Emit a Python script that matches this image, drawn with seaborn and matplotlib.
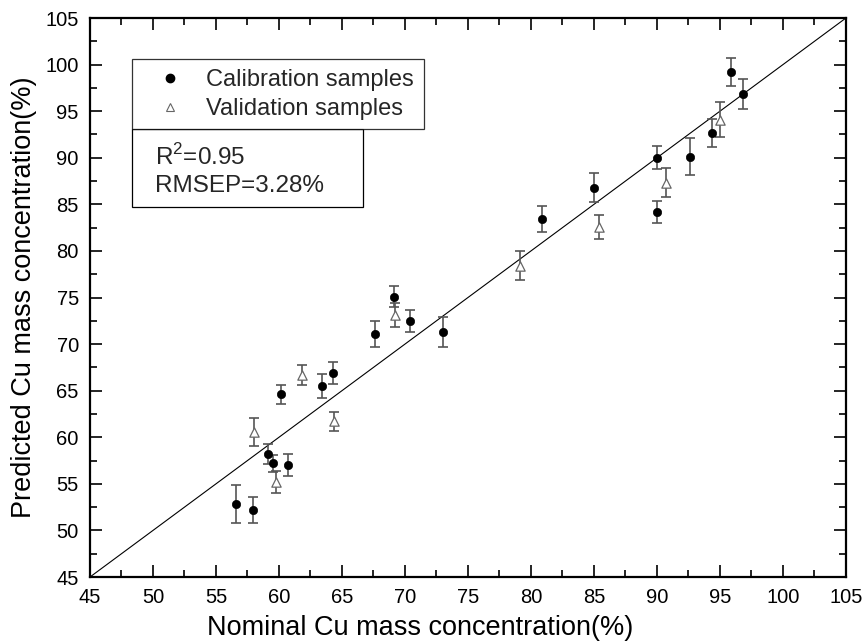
import pandas as pd
import numpy as np
import matplotlib
matplotlib.use('Agg')
import matplotlib.pyplot as plt
from matplotlib.lines import Line2D
from matplotlib.patches import Rectangle
import seaborn as sns

# calibration samples (filled circles)
cal_nominal = [56.6, 57.9, 59.1, 59.5, 60.7, 60.2, 63.4, 64.3, 67.6, 69.1,
               70.4, 73.0, 80.9, 85.0, 90.0, 90.0, 92.6, 94.4, 95.9, 96.8]
cal_pred = [52.8, 52.2, 58.2, 57.2, 57.0, 64.6, 65.5, 66.9, 71.1, 75.1,
            72.5, 71.3, 83.4, 86.8, 90.0, 84.2, 90.1, 92.7, 99.2, 96.85]
cal_err = [2.05, 1.35, 1.1, 0.9, 1.2, 1.05, 1.25, 1.2, 1.4, 1.1,
           1.2, 1.6, 1.4, 1.6, 1.25, 1.2, 2.0, 1.5, 1.5, 1.6]

# validation samples (open triangles)
val_nominal = [58.0, 59.8, 61.8, 64.4, 69.2, 79.1, 85.4, 90.7, 95.0]
val_pred = [60.6, 55.2, 66.7, 61.7, 73.1, 78.4, 82.6, 87.3, 94.1]
val_err = [1.5, 1.15, 1.1, 1.0, 1.3, 1.55, 1.3, 1.55, 1.9]

r2_text = 'R$^2$=0.95\nRMSEP=3.28%'

cal = pd.DataFrame({'nominal': cal_nominal, 'pred': cal_pred, 'err': cal_err})
val = pd.DataFrame({'nominal': val_nominal, 'pred': val_pred, 'err': val_err})

sns.set_theme(style='ticks')
plt.rcParams['font.family'] = ['Liberation Sans', 'DejaVu Sans']
plt.rcParams['mathtext.fontset'] = 'custom'
plt.rcParams['mathtext.rm'] = 'Liberation Sans'

fig = plt.figure(figsize=(8.65, 6.43), dpi=100)
ax = fig.add_axes([0.104, 0.1026, 0.874, 0.8694])

# y = x reference line
ax.plot([45, 105], [45, 105], color='black', lw=0.8, zorder=1)

ax.errorbar(cal['nominal'], cal['pred'], yerr=cal['err'], fmt='none',
            ecolor='#555555', elinewidth=1.2, capsize=3.6, capthick=1.2, zorder=2)
ax.errorbar(val['nominal'], val['pred'], yerr=val['err'], fmt='none',
            ecolor='#555555', elinewidth=1.2, capsize=3.6, capthick=1.2, zorder=2)

sns.scatterplot(data=cal, x='nominal', y='pred', ax=ax, marker='o', s=36,
                color='black', edgecolor='black', zorder=3)
sns.scatterplot(data=val, x='nominal', y='pred', ax=ax, marker='^', s=45,
                facecolor='white', edgecolor='#666666', linewidth=0.9, zorder=3)

ax.set_xlim(45, 105)
ax.set_ylim(45, 105)
ax.set_xticks(np.arange(45, 106, 5))
ax.set_yticks(np.arange(45, 106, 5))
ax.set_xticks(np.arange(47.5, 105, 5), minor=True)
ax.set_yticks(np.arange(47.5, 105, 5), minor=True)
ax.tick_params(which='both', direction='in', top=True, right=True,
               color='black', labelsize=14.5, labelcolor='black')
ax.tick_params(which='major', length=8.5, width=1.2, pad=8)
ax.tick_params(which='minor', length=4.8, width=1.2)
for sp in ax.spines.values():
    sp.set_linewidth(1.6)
    sp.set_color('black')

ax.set_xlabel('Nominal Cu mass concentration(%)', fontsize=19.5, color='black', labelpad=6)
ax.xaxis.label.set_x(0.437)
ax.set_ylabel('Predicted Cu mass concentration(%)', fontsize=19.5, color='black', labelpad=6)

handles = [
    Line2D([], [], marker='o', ls='none', color='black', markersize=6),
    Line2D([], [], marker='^', ls='none', markerfacecolor='white',
           markeredgecolor='#666666', markersize=6, markeredgewidth=0.8),
]
leg = ax.legend(handles, ['Calibration samples', 'Validation samples'],
                loc='upper left', bbox_to_anchor=(0.055, 0.926), borderaxespad=0,
                fontsize=17, frameon=True, fancybox=False, edgecolor='black',
                handlelength=2.5, handletextpad=0.27, borderpad=0.4,
                labelspacing=0.3)
leg.get_frame().set_linewidth(0.9)

ax.add_patch(Rectangle((0.0556, 0.662), 0.3056, 0.1395, transform=ax.transAxes,
                       facecolor='white', edgecolor='black', lw=0.9, zorder=5))
ax.text(0.086, 0.727, r2_text, transform=ax.transAxes, fontsize=17.5,
        va='center', ha='left', linespacing=1.3, zorder=6)

fig.savefig('out.png', dpi=100)
